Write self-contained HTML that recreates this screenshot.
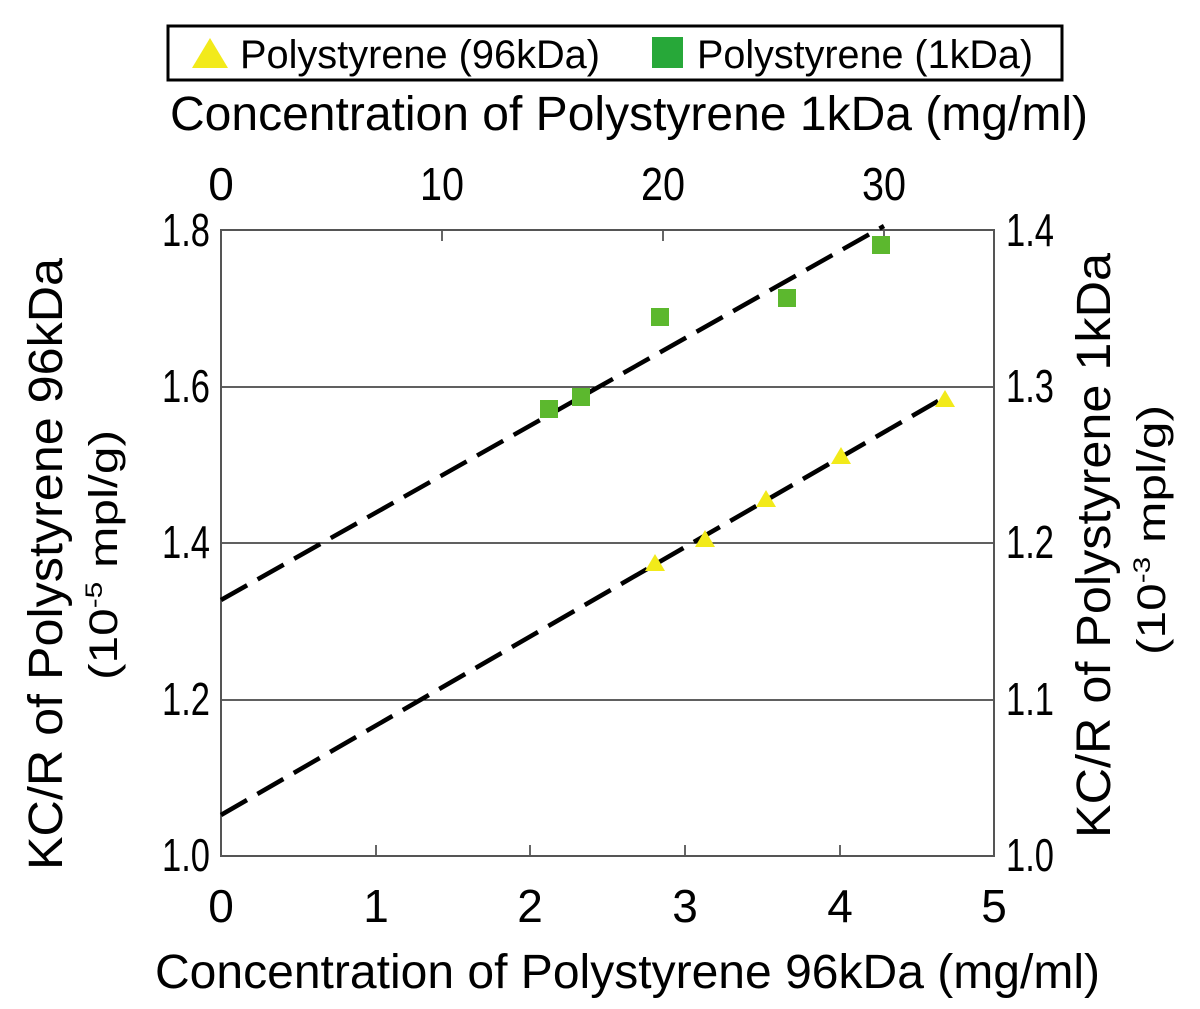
<!DOCTYPE html>
<html><head><style>body{margin:0;background:#fff}</style></head><body>
<svg width="1200" height="1004" xmlns="http://www.w3.org/2000/svg" font-family="Liberation Sans, sans-serif">
<rect x="168" y="26" width="894" height="54" fill="#fff" stroke="#000" stroke-width="3"/>
<polygon points="192,68 210,38 228,68" fill="#f2ea1a"/>
<text x="240" y="68" font-size="40" textLength="360" lengthAdjust="spacingAndGlyphs">Polystyrene (96kDa)</text>
<rect x="652" y="37" width="31" height="31" fill="#27a839"/>
<text x="697" y="68" font-size="40" textLength="336" lengthAdjust="spacingAndGlyphs">Polystyrene (1kDa)</text>
<text x="170" y="130" font-size="48" textLength="918" lengthAdjust="spacingAndGlyphs">Concentration of Polystyrene 1kDa (mg/ml)</text>
<g font-size="46" text-anchor="middle">
<text x="221" y="200">0</text><text x="442" y="200" textLength="44" lengthAdjust="spacingAndGlyphs">10</text><text x="663" y="200" textLength="44" lengthAdjust="spacingAndGlyphs">20</text><text x="884" y="200" textLength="44" lengthAdjust="spacingAndGlyphs">30</text>
<text x="221" y="922">0</text><text x="376" y="922">1</text><text x="530" y="922">2</text><text x="685" y="922">3</text><text x="840" y="922">4</text><text x="994" y="922">5</text>
</g>
<g font-size="46">
<text x="162" y="246" textLength="48" lengthAdjust="spacingAndGlyphs">1.8</text><text x="162" y="402" textLength="48" lengthAdjust="spacingAndGlyphs">1.6</text><text x="162" y="558" textLength="48" lengthAdjust="spacingAndGlyphs">1.4</text><text x="162" y="715" textLength="48" lengthAdjust="spacingAndGlyphs">1.2</text><text x="162" y="871" textLength="48" lengthAdjust="spacingAndGlyphs">1.0</text>
<text x="1006" y="246" textLength="48" lengthAdjust="spacingAndGlyphs">1.4</text><text x="1006" y="402" textLength="48" lengthAdjust="spacingAndGlyphs">1.3</text><text x="1006" y="558" textLength="48" lengthAdjust="spacingAndGlyphs">1.2</text><text x="1006" y="715" textLength="48" lengthAdjust="spacingAndGlyphs">1.1</text><text x="1006" y="871" textLength="48" lengthAdjust="spacingAndGlyphs">1.0</text>
</g>
<g stroke="#000" stroke-width="1.2">
<line x1="221" y1="387" x2="994" y2="387"/><line x1="221" y1="543" x2="994" y2="543"/><line x1="221" y1="700" x2="994" y2="700"/>
<line x1="376" y1="856" x2="376" y2="845"/><line x1="530" y1="856" x2="530" y2="845"/><line x1="685" y1="856" x2="685" y2="845"/><line x1="840" y1="856" x2="840" y2="845"/>
<line x1="442" y1="230" x2="442" y2="241"/><line x1="663" y1="230" x2="663" y2="241"/><line x1="884" y1="230" x2="884" y2="241"/>
</g>
<rect x="221" y="230" width="773" height="626" fill="none" stroke="#555" stroke-width="2"/>
<g stroke="#000" stroke-width="4.5" stroke-dasharray="30,12" fill="none">
<line x1="221" y1="815" x2="945" y2="397"/>
<line x1="221" y1="600" x2="884" y2="226"/>
</g>
<g fill="#f2ea1a">
<polygon points="645,571 655,554 665,571"/><polygon points="695,547 705,530 715,547"/><polygon points="756,507 766,490 776,507"/><polygon points="831,464 841,447 851,464"/><polygon points="935,407 945,390 955,407"/>
</g>
<g fill="#5cb82e">
<rect x="540" y="400" width="18" height="18"/><rect x="572" y="388" width="18" height="18"/><rect x="651" y="308" width="18" height="18"/><rect x="778" y="289" width="18" height="18"/><rect x="872" y="236" width="18" height="18"/>
</g>
<text x="155" y="988" font-size="48" textLength="945" lengthAdjust="spacingAndGlyphs">Concentration of Polystyrene 96kDa (mg/ml)</text>
<text transform="translate(62,870) rotate(-90)" font-size="48" textLength="612" lengthAdjust="spacingAndGlyphs">KC/R of Polystyrene 96kDa</text>
<text transform="translate(117,680) rotate(-90)" font-size="40" textLength="250" lengthAdjust="spacingAndGlyphs">(10<tspan font-size="24" dy="-15">-5</tspan><tspan dy="15"> mpl/g)</tspan></text>
<text transform="translate(1110,838) rotate(-90)" font-size="48" textLength="585" lengthAdjust="spacingAndGlyphs">KC/R of Polystyrene 1kDa</text>
<text transform="translate(1165,655) rotate(-90)" font-size="40" textLength="250" lengthAdjust="spacingAndGlyphs">(10<tspan font-size="24" dy="-15">-3</tspan><tspan dy="15"> mpl/g)</tspan></text>
</svg>
</body></html>
